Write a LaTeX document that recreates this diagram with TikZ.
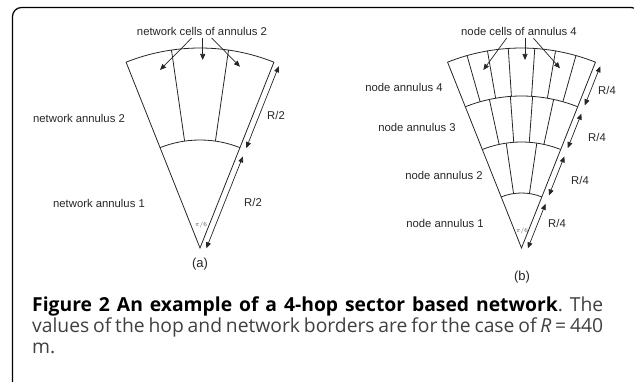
\documentclass[tikz,border=0pt]{standalone}
\usepackage{fontspec}
\setmainfont{Liberation Sans}
\newfontfamily\capfont{Open Sans}
\usetikzlibrary{arrows.meta,calc}
\begin{document}
\frenchspacing
\begin{tikzpicture}[x=1pt,y=-1pt,
  lbl/.style={font=\fontsize{11.3}{13}\selectfont, text=black!85, inner sep=0pt},
  pilbl/.style={font=\fontsize{6.5}{7}\selectfont, text=black!70, inner sep=0pt},
  sublbl/.style={font=\fontsize{13}{15}\selectfont, text=black!85, inner sep=0pt},
  dimarrow/.style={{Triangle[length=6pt,width=5pt]}-{Triangle[length=6pt,width=5pt]}, line width=0.7pt, draw=black!85},
  callout/.style={-{Triangle[length=6pt,width=5pt]}, line width=0.7pt, draw=black!85},
  sect/.style={line width=0.8pt, draw=black!85},
  capline/.style={anchor=base west, inner sep=0pt, font=\capfont\fontsize{19.3}{23}\selectfont, text=black!75}]
\useasboundingbox (0,0) rectangle (634,382);
\begin{scope}
  \clip (0,0) rectangle (634,382);
  \draw[line width=1.2pt, rounded corners=9pt] (12.5,7.5) rectangle (640,400);
\end{scope}

% ---------- panel (a) ----------
\begin{scope}[shift={(200,248)}]
  \draw[sect] (0,0) -- (-111.7:200) arc[start angle=-111.7, end angle=-68.3, radius=200] -- cycle;
  \draw[sect] (-111.7:108) arc[start angle=-111.7, end angle=-68.3, radius=108];
  \foreach \a in {-8.2,8.2} \draw[sect] (-90+\a:108) -- (-90+\a:200);
  \coordinate (a1s) at ([shift={(21.7:6)}]-68.3:2);
  \coordinate (a1e) at ([shift={(21.7:6)}]-68.3:101);
  \coordinate (a2s) at ([shift={(21.7:6)}]-68.3:110);
  \coordinate (a2e) at ([shift={(21.7:6)}]-68.3:198);
  \draw[dimarrow] (a1s) -- (a1e);
  \draw[dimarrow] (a2s) -- (a2e);
\end{scope}
\node[lbl, anchor=base] (acells) at (202,36) {network cells of annulus 2};
\coordinate (ac1) at (191.7,38);
\coordinate (ac2) at (202.7,38);
\coordinate (ac3) at (211.7,38);
\coordinate (at1) at (160,70);
\coordinate (at2) at (202.7,60);
\coordinate (at3) at (240,66.7);
\draw[callout] (ac1) -- (at1);
\draw[callout] (ac2) -- (at2);
\draw[callout] (ac3) -- (at3);
\node[lbl] (aann2) at (79,118) {network annulus 2};
\node[lbl] (aann1) at (99,203) {network annulus 1};
\node[lbl] (ar2) at (276,115) {R/2};
\node[lbl] (ar1) at (253,202) {R/2};
\node[pilbl] (api) at (201,225) {$\pi/6$};
\node[sublbl] (asub) at (200,264) {(a)};

% ---------- panel (b) ----------
\begin{scope}[shift={(521.5,248)}]
  \draw[sect] (0,0) -- (-111.7:200) arc[start angle=-111.7, end angle=-68.3, radius=200] -- cycle;
  \foreach \r in {55,106,152}
    \draw[sect] (-111.7:\r) arc[start angle=-111.7, end angle=-68.3, radius=\r];
  \foreach \a in {-8.3,8.3} \draw[sect] (-90+\a:55) -- (-90+\a:106);
  \foreach \a in {-12.2,-4.2,4.2,12.2} \draw[sect] (-90+\a:106) -- (-90+\a:152);
  \foreach \a in {-15.8,-9.8,-3.8,3.8,9.8,15.8} \draw[sect] (-90+\a:152) -- (-90+\a:200);
  \coordinate (b1s) at ([shift={(21.7:6)}]-68.3:2);
  \coordinate (b1e) at ([shift={(21.7:6)}]-68.3:50);
  \coordinate (b2s) at ([shift={(21.7:6)}]-68.3:59);
  \coordinate (b2e) at ([shift={(21.7:6)}]-68.3:101);
  \coordinate (b3s) at ([shift={(21.7:6)}]-68.3:110);
  \coordinate (b3e) at ([shift={(21.7:6)}]-68.3:147);
  \coordinate (b4s) at ([shift={(21.7:6)}]-68.3:156);
  \coordinate (b4e) at ([shift={(21.7:6)}]-68.3:198);
  \draw[dimarrow] (b1s) -- (b1e);
  \draw[dimarrow] (b2s) -- (b2e);
  \draw[dimarrow] (b3s) -- (b3e);
  \draw[dimarrow] (b4s) -- (b4e);
\end{scope}
\node[lbl, anchor=base] (bcells) at (519,36) {node cells of annulus 4};
\coordinate (bc1) at (506.7,38);
\coordinate (bc2) at (525,38);
\coordinate (bc3) at (533.3,38);
\coordinate (bt1) at (483.3,70);
\coordinate (bt2) at (525,60);
\coordinate (bt3) at (560,68.3);
\draw[callout] (bc1) -- (bt1);
\draw[callout] (bc2) -- (bt2);
\draw[callout] (bc3) -- (bt3);
\node[lbl] (bann4) at (404,87) {node annulus 4};
\node[lbl] (bann3) at (417,127) {node annulus 3};
\node[lbl] (bann2) at (444,175) {node annulus 2};
\node[lbl] (bann1) at (445,223) {node annulus 1};
\node[lbl] (br4) at (607,90) {R/4};
\node[lbl] (br3) at (597,137) {R/4};
\node[lbl] (br2) at (580,180) {R/4};
\node[lbl] (br1) at (557,223) {R/4};
\node[pilbl] (bpi) at (522,231) {$\pi/6$};
\node[sublbl] (bsub) at (522,277) {(b)};

% ---------- caption ----------
\node[capline] (cap1) at (32,311) {\makebox[571pt][s]{\textbf{\color{black}Figure 2 An example of a 4-hop sector based network}. The}};
\node[capline] (cap2) at (32,332) {\makebox[571pt][s]{values of the hop and network borders are for the case of \textit{R} = 440}};
\node[capline] (cap3) at (32,353) {m.};
\end{tikzpicture}
\end{document}
